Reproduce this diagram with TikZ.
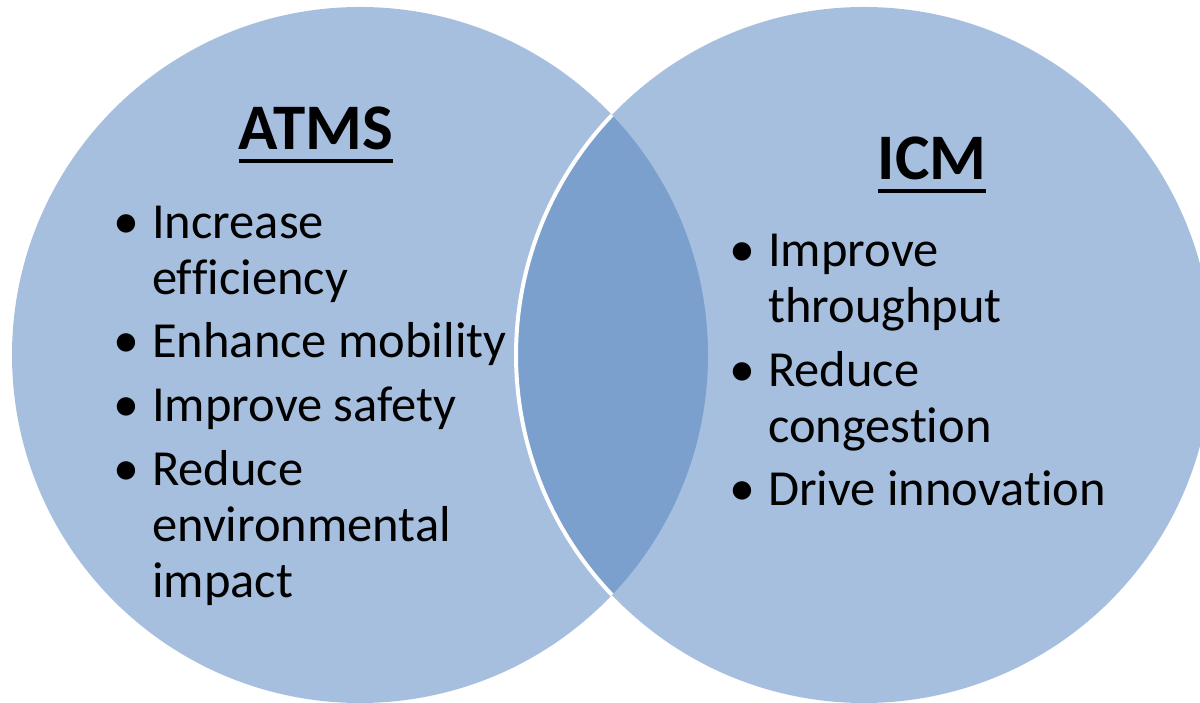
\documentclass[tikz,border=0pt]{standalone}
\usepackage{fontspec}
\setmainfont[Ligatures=NoCommon,RawFeature={-liga;-clig}]{Carlito}
\definecolor{vennlight}{RGB}{167,191,222}
\definecolor{venndark}{RGB}{123,160,205}
\begin{document}
\begin{tikzpicture}[x=1pt,y=1pt,
  item/.style={anchor=base west,inner sep=0pt,font=\fontsize{50.5}{56}\selectfont},
  dot/.style={anchor=base,inner sep=0pt,font=\fontsize{52}{56}\selectfont},
  heading/.style={anchor=base,inner sep=0pt,font=\bfseries\fontsize{#1}{#1}\selectfont},
  rule/.style={line width=4pt,black}]
\useasboundingbox (0,0) rectangle (1200,703);
\clip (0,0) rectangle (1200,703);
% the two sets
\fill[vennlight] (360,348) circle (348);
\fill[vennlight] (864,348) circle (348);
\begin{scope}
  \clip (360,348) circle (348);
  \fill[venndark] (864,348) circle (348);
\end{scope}
% white rim of the right set across the overlap
\draw[white,line width=4pt] (864,348) ++(136.4:348) arc[start angle=136.4,end angle=223.6,radius=348];

% ATMS
\node[heading=65] (atms) at (316,553) {ATMS};
\draw[rule] ([yshift=-11pt]atms.base west) -- ([yshift=-11pt]atms.base east);
\node[dot] (ab1) at (126,464) {\textbullet};
\node[item] (a1a) at (152,464) {Increase};
\node[item] (a1b) at (152,408) {ef\kern0ptf\kern0pticiency};
\node[dot] (ab2) at (126,345) {\textbullet};
\node[item] (a2) at (152,345) {Enhance mobility};
\node[dot] (ab3) at (126,281) {\textbullet};
\node[item] (a3) at (152,281) {Improve safety};
\node[dot] (ab4) at (126,217) {\textbullet};
\node[item] (a4a) at (152,217) {Reduce};
\node[item] (a4b) at (152,161) {environmental};
\node[item] (a4c) at (152,105) {impact};

% ICM
\node[heading=65] (icm) at (932,523) {ICM};
\draw[rule] ([yshift=-11pt]icm.base west) -- ([yshift=-11pt]icm.base east);
\node[dot] (ib1) at (742,436) {\textbullet};
\node[item] (i1a) at (768,436) {Improve};
\node[item] (i1b) at (768,380) {throughput};
\node[dot] (ib2) at (742,316) {\textbullet};
\node[item] (i2a) at (768,316) {Reduce};
\node[item] (i2b) at (768,260) {congest\kern0ption};
\node[dot] (ib3) at (742,197) {\textbullet};
\node[item] (i3) at (768,197) {Drive innovat\kern0ption};
\end{tikzpicture}
\end{document}
